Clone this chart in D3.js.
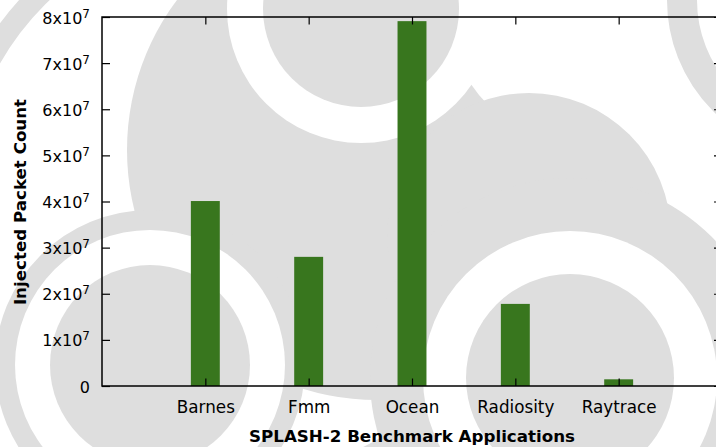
<!DOCTYPE html>
<html>
<head>
<meta charset="utf-8">
<script src="https://cdn.jsdelivr.net/npm/d3@7/dist/d3.min.js"></script>
<style>
  html, body { margin: 0; padding: 0; background: #ffffff; }
  svg { display: block; }
  text { font-family: "DejaVu Sans", Verdana, sans-serif; fill: #000; }
</style>
</head>
<body>
<svg id="chart" width="716" height="447"></svg>
<script>
// SPLASH-2 injected packet counts
const categories = ["Barnes", "Fmm", "Ocean", "Radiosity", "Raytrace"];
const packetCounts = [4.01e7, 2.80e7, 7.91e7, 1.78e7, 0.145e7];
const yTickValues = [0, 1e7, 2e7, 3e7, 4e7, 5e7, 6e7, 7e7, 8e7];
const yTickMantissas = ["0", "1", "2", "3", "4", "5", "6", "7", "8"];
const yTickExponent = "7";
const xTitle = "SPLASH-2 Benchmark Applications";
const yTitle = "Injected Packet Count";

const W = 716, H = 447;
const plot = { left: 102, right: 722, top: 17, bottom: 386 };
const barColor = "#38761e";
const ringGray = "#dedede";

const svg = d3.select("#chart");

// ---- decorative ring pattern in the background ----
const deco = svg.append("g").attr("class", "backdrop");
// stroked arcs first, then filled discs painted in order
deco.append("circle").attr("cx", 240).attr("cy", 200).attr("r", 287)
  .attr("fill", "none").attr("stroke", ringGray).attr("stroke-width", 22);
const discs = [
  [377, 150, 250, ringGray],
  [595, 0, 150, "#ffffff"],
  [529, 235, 142, ringGray],
  [150, 365, 155, ringGray],
  [150, 365, 135, "#ffffff"],
  [150, 365, 100, ringGray],
  [361, 9, 134, "#ffffff"],
  [361, 9, 98, ringGray],
  [570, 378, 200, ringGray],
  [570, 378, 147, "#ffffff"],
  [570, 378, 104, ringGray]
];
deco.selectAll("circle.disc").data(discs).join("circle")
  .attr("class", "disc")
  .attr("cx", d => d[0]).attr("cy", d => d[1]).attr("r", d => d[2])
  .attr("fill", d => d[3]);
deco.append("circle").attr("cx", 824).attr("cy", 0).attr("r", 142)
  .attr("fill", "none").attr("stroke", ringGray).attr("stroke-width", 30);

// ---- scales ----
const x = d3.scaleLinear().domain([0, categories.length + 1]).range([plot.left, plot.right]);
const y = d3.scaleLinear().domain([0, 8e7]).range([plot.bottom, plot.top]);
const barWidth = x(0.28) - x(0);
const catPos = categories.map((c, i) => i + 1);

// ---- bars ----
svg.append("g").selectAll("rect").data(packetCounts).join("rect")
  .attr("x", (d, i) => x(i + 1) - barWidth / 2)
  .attr("y", d => y(d))
  .attr("width", barWidth)
  .attr("height", d => y(0) - y(d))
  .attr("fill", barColor);

// ---- axes (ticks point inward, gnuplot style) ----
const tickStroke = g => {
  g.select(".domain").remove();
  g.selectAll(".tick line").attr("stroke", "#000").attr("stroke-width", 1.2);
};

const yAxis = svg.append("g").attr("transform", `translate(${plot.left},0)`)
  .call(d3.axisLeft(y).tickValues(yTickValues).tickSize(-8).tickPadding(12).tickFormat(""))
  .call(tickStroke);
yAxis.selectAll(".tick text").remove();
yAxis.selectAll(".tick").append("text")
  .attr("x", -12)
  .attr("y", 6)
  .attr("text-anchor", "end")
  .style("font-size", "16px")
  .each(function(d, i) {
    const t = d3.select(this);
    if (d === 0) { t.text(yTickMantissas[i]); return; }
    t.append("tspan").text(yTickMantissas[i] + "x10");
    t.append("tspan").attr("dy", -6).style("font-size", "12px").text(yTickExponent);
  });

svg.append("g").attr("transform", `translate(${plot.right},0)`)
  .call(d3.axisRight(y).tickValues(yTickValues).tickSize(-8).tickFormat(""))
  .call(tickStroke);

const xAxis = svg.append("g").attr("transform", `translate(0,${plot.bottom})`)
  .call(d3.axisBottom(x).tickValues(catPos).tickSize(-7.5).tickPadding(15)
    .tickFormat(d => categories[d - 1]))
  .call(tickStroke);
xAxis.selectAll(".tick text").style("font-size", "16.8px").attr("fill", "#000");

svg.append("g").attr("transform", `translate(0,${plot.top})`)
  .call(d3.axisTop(x).tickValues(catPos).tickSize(-7.5).tickFormat(""))
  .call(tickStroke);

// plot border
svg.append("rect")
  .attr("x", plot.left).attr("y", plot.top)
  .attr("width", plot.right - plot.left).attr("height", plot.bottom - plot.top)
  .attr("fill", "none").attr("stroke", "#000").attr("stroke-width", 1.5);

// ---- titles ----
svg.append("text")
  .attr("x", 412).attr("y", 442)
  .attr("text-anchor", "middle")
  .style("font-size", "16.7px").style("font-weight", "bold")
  .text(xTitle);

svg.append("text")
  .attr("transform", "translate(26,202) rotate(-90)")
  .attr("text-anchor", "middle")
  .style("font-size", "16.7px").style("font-weight", "bold")
  .text(yTitle);
</script>
</body>
</html>
